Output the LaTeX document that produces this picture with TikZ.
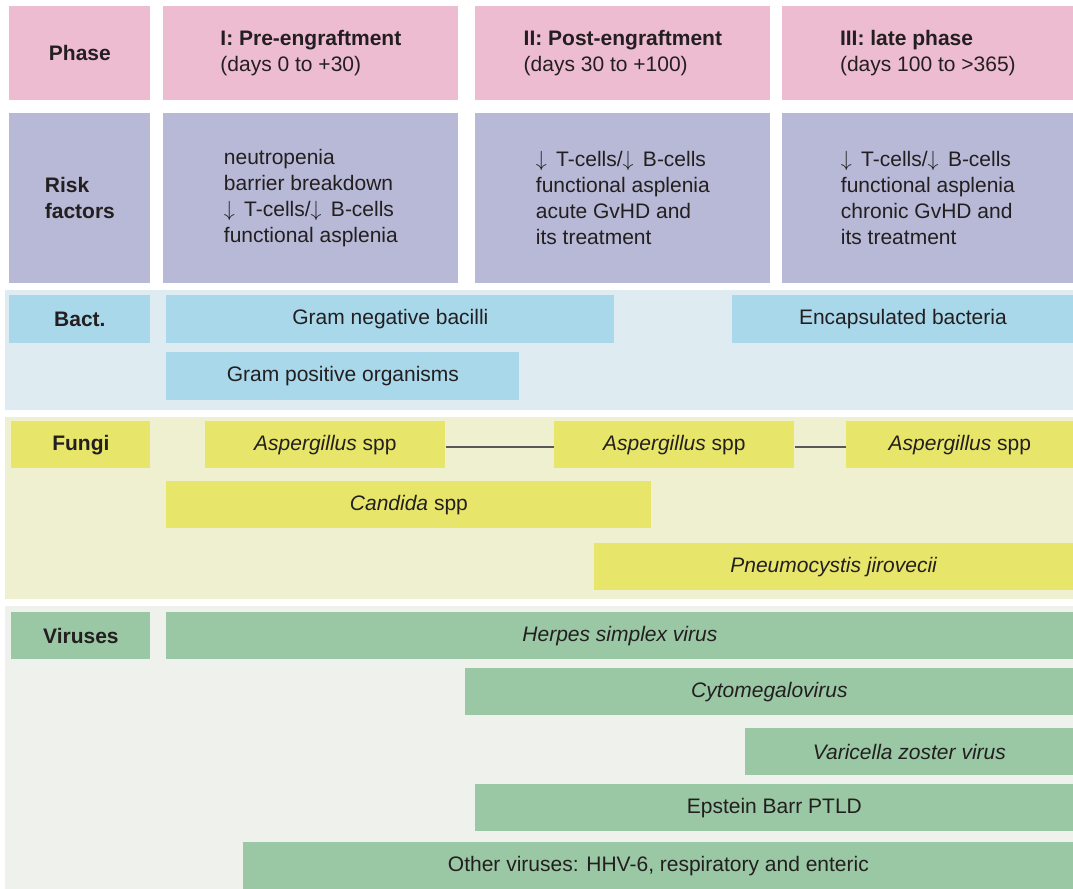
\documentclass[tikz,border=0pt]{standalone}
\usepackage{fontspec}
\setmainfont{Liberation Sans}
\usetikzlibrary{positioning}
\definecolor{phasepink}{HTML}{EEBCD0}
\definecolor{risklav}{HTML}{B7B9D6}
\definecolor{bactback}{HTML}{DEEBF0}
\definecolor{bactbar}{HTML}{A8D8EA}
\definecolor{fungback}{HTML}{EFF0D0}
\definecolor{fungbar}{HTML}{E8E66A}
\definecolor{virback}{HTML}{EFF2EC}
\definecolor{virbar}{HTML}{9AC8A4}
\definecolor{ink}{HTML}{231F20}

\begin{document}
\begin{tikzpicture}[x=0.5pt,y=-0.5pt,
    every node/.style={text=ink,font=\fontsize{10.5}{13}\selectfont,inner sep=0pt,anchor=north west},
    head/.style={fill=phasepink,minimum height=47pt},
    risk/.style={fill=risklav,minimum height=85pt,align=left},
    bbar/.style={fill=bactbar,minimum height=24pt},
    fbar/.style={fill=fungbar,minimum height=23.5pt},
    vbar/.style={fill=virbar,minimum height=23.5pt},
    lab/.style={font=\fontsize{10.5}{13}\selectfont\bfseries}]
            \useasboundingbox (0,0) rectangle (1073,889);
            % phase row
            \node[head,lab,minimum width=70.5pt] (phase) at (9,6) {Phase};
            \node[head,align=left,minimum width=147.5pt] (ph1) at (163,6) {\textbf{I: Pre-engraftment}\\(days 0 to +30)};
            \node[head,align=left,minimum width=147.5pt] (ph2) at (475,6) {\textbf{II: Post-engraftment}\\(days 30 to +100)};
            \node[head,align=left,minimum width=145.5pt] (ph3) at (782,6) {\textbf{III: late phase}\\(days 100 to >365)};
            % risk factors
            \node[risk,lab,minimum width=70.5pt] (rf) at (9,113) {Risk\\factors};
            \node[risk,minimum width=147.5pt] (rf1) at (163,113) {neutropenia\\barrier breakdown\\$\downarrow$\,\ T-cells/$\downarrow$\,\ B-cells\\functional asplenia};
            \node[risk,minimum width=147.5pt] (rf2) at (475,113) {$\downarrow$\,\ T-cells/$\downarrow$\,\ B-cells\\functional asplenia\\acute GvHD and\\its treatment};
            \node[risk,minimum width=145.5pt] (rf3) at (782,113) {$\downarrow$\,\ T-cells/$\downarrow$\,\ B-cells\\functional asplenia\\chronic GvHD and\\its treatment};
            % bacteria
            \fill[bactback] (5,290) rectangle (1073,410);
            \node[bbar,lab,minimum width=70.5pt] (bact) at (9,295) {Bact.};
            \node[bbar,minimum width=224pt] (gneg) at (166,295) {Gram negative bacilli};
            \node[bbar,minimum width=170.5pt] (encap) at (732,295) {Encapsulated bacteria};
            \node[bbar,minimum width=176.5pt] (gpos) at (166,352) {Gram positive organisms};
            % fungi
            \fill[fungback] (5,417) rectangle (1073,599);
            \node[fbar,lab,minimum width=69.5pt] (fungi) at (11,421) {Fungi};
            \node[fbar,minimum width=120pt] (asp1) at (205,421) {\textit{Aspergillus} spp};
            \node[fbar,minimum width=120pt] (asp2) at (554,421) {\textit{Aspergillus} spp};
            \node[fbar,minimum width=113.5pt] (asp3) at (846,421) {\textit{Aspergillus} spp};
            \node[fbar,minimum width=242.5pt] (cand) at (166,481) {\textit{Candida} spp};
            \node[fbar,minimum width=239.5pt] (pneu) at (594,543) {\textit{Pneumocystis jirovecii}};
            \draw[ink!75,line width=0.6pt] ([yshift=-1pt]asp1.east) -- ([yshift=-1pt]asp2.west);
            \draw[ink!75,line width=0.6pt] ([yshift=-1pt]asp2.east) -- ([yshift=-1pt]asp3.west);
            % viruses
            \fill[virback] (5,606) rectangle (1073,889);
            \node[vbar,lab,minimum width=69.5pt] (vir) at (11,612) {Viruses};
            \node[vbar,minimum width=453.5pt] (hsv) at (166,612) {\textit{Herpes simplex virus}};
            \node[vbar,minimum width=304pt] (cmv) at (465,668) {\textit{Cytomegalovirus}};
            \node[vbar,minimum width=164pt] (vzv) at (745,728) {\textit{Varicella zoster virus}};
            \node[vbar,minimum width=299pt] (ebv) at (475,784) {Epstein Barr PTLD};
            \node[vbar,minimum width=415pt] (oth) at (243,842) {Other viruses: HHV-6, respiratory and enteric};
\end{tikzpicture}
\end{document}
